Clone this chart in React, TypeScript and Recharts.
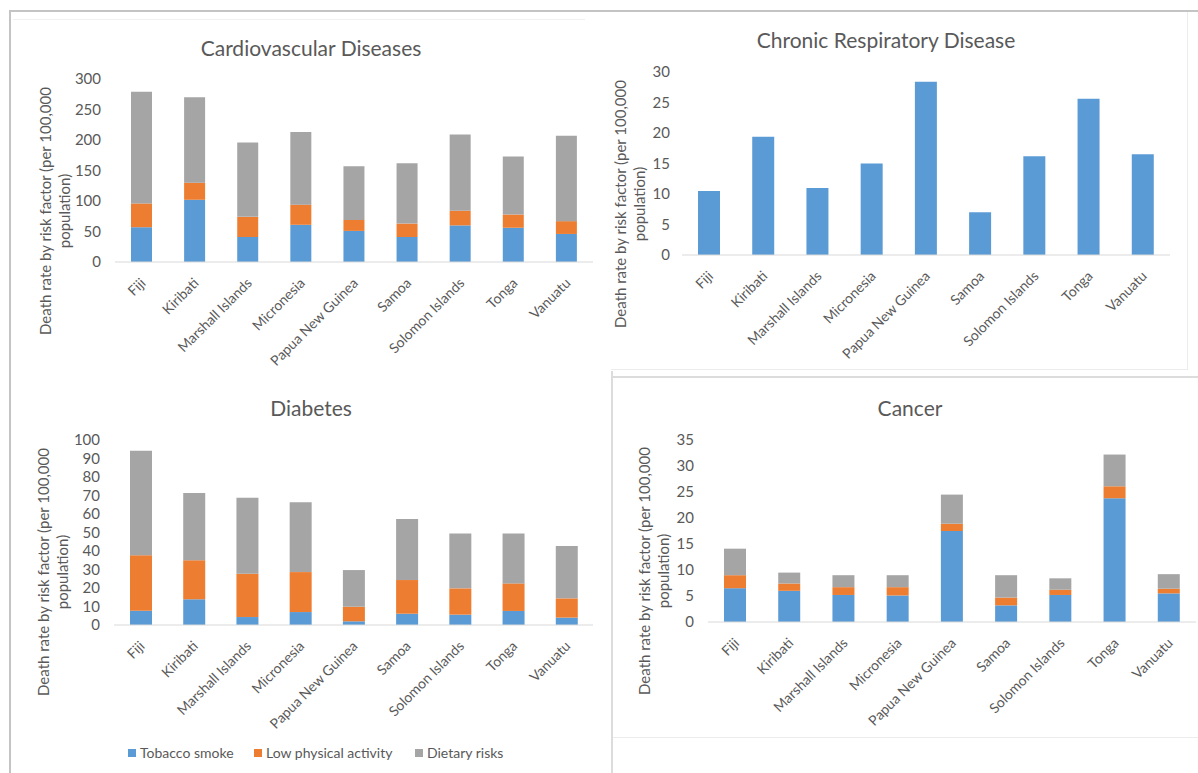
import { Bar, BarChart, XAxis, YAxis } from 'recharts'

const FONT = 'Lato, "Liberation Sans", sans-serif'
const TEXT = '#595959'
const AXIS = '#d9d9d9'
const BLUE = '#5B9BD5'
const ORANGE = '#ED7D31'
const GREY = '#A5A5A5'

const countries = ['Fiji', 'Kiribati', 'Marshall Islands', 'Micronesia', 'Papua New Guinea', 'Samoa', 'Solomon Islands', 'Tonga', 'Vanuatu']

// Cardiovascular diseases
const cvdTobacco = [57, 102, 41, 61, 51, 41, 60, 56, 46]
const cvdActivity = [39, 28, 33, 33, 18, 22, 24, 22, 21]
const cvdDiet = [183, 140, 122, 119, 88, 99, 125, 95, 140]
const cvdTicks = [0, 50, 100, 150, 200, 250, 300]

// Chronic respiratory disease
const crdTobacco = [10.5, 19.4, 11.0, 15.0, 28.4, 7.0, 16.2, 25.6, 16.5]
const crdTicks = [0, 5, 10, 15, 20, 25, 30]

// Diabetes
const diaTobacco = [7.7, 13.9, 4.3, 7.0, 2.0, 6.1, 5.6, 7.6, 4.0]
const diaActivity = [30.0, 21.1, 23.4, 21.6, 7.9, 18.2, 14.2, 14.9, 10.4]
const diaDiet = [56.5, 36.4, 41.1, 37.7, 19.8, 33.0, 29.7, 27.0, 28.3]
const diaTicks = [0, 10, 20, 30, 40, 50, 60, 70, 80, 90, 100]

// Cancer
const canTobacco = [6.5, 6.0, 5.2, 5.1, 17.5, 3.2, 5.2, 23.8, 5.5]
const canActivity = [2.5, 1.4, 1.5, 1.6, 1.4, 1.5, 1.0, 2.3, 0.9]
const canDiet = [5.1, 2.1, 2.3, 2.3, 5.6, 4.3, 2.2, 6.1, 2.8]
const canTicks = [0, 5, 10, 15, 20, 25, 30, 35]

const seriesNames = ['Tobacco smoke', 'Low physical activity', 'Dietary risks']

const rows = (a: number[], b?: number[], c?: number[]) =>
  countries.map((country, i) => ({ country, tobacco: a[i], activity: b ? b[i] : 0, diet: c ? c[i] : 0 }))

const AngledTick = (props: any) => {
  const { x, y, payload } = props
  return (
    <g transform={`translate(${x + 5},${y + 22})`}>
      <text x={0} y={0} textAnchor="end" transform="rotate(-45)" fill={TEXT} fontSize={14} fontFamily={FONT}>
        {payload.value}
      </text>
    </g>
  )
}

type PanelProps = {
  left: number
  top: number
  width: number
  height: number
  margin: { top: number; right: number; bottom: number; left: number }
  yWidth: number
  tickGap: number
  ticks: number[]
  barSize: number
  data: any[]
  stacked: boolean
}

function Panel({ left, top, width, height, margin, yWidth, tickGap, ticks, barSize, data, stacked }: PanelProps) {
  return (
    <div style={{ position: 'absolute', left, top }}>
      <BarChart width={width} height={height} data={data} margin={margin}>
        <XAxis
          dataKey="country"
          interval={0}
          height={110}
          tickLine={false}
          tickSize={0}
          tickMargin={0}
          axisLine={{ stroke: AXIS }}
          tick={(p: any) => <AngledTick {...p} />}
        />
        <YAxis
          type="number"
          domain={[ticks[0], ticks[ticks.length - 1]]}
          ticks={ticks}
          interval={0}
          width={yWidth}
          axisLine={false}
          tickLine={false}
          tickSize={0}
          tickMargin={tickGap}
          tick={{ fill: TEXT, fontSize: 15, fontFamily: FONT }}
        />
        <Bar dataKey="tobacco" stackId="a" fill={BLUE} barSize={barSize} isAnimationActive={false} />
        {stacked && <Bar dataKey="activity" stackId="a" fill={ORANGE} barSize={barSize} isAnimationActive={false} />}
        {stacked && <Bar dataKey="diet" stackId="a" fill={GREY} barSize={barSize} isAnimationActive={false} />}
      </BarChart>
    </div>
  )
}

const Title = ({ x, y, text }: { x: number; y: number; text: string }) => (
  <div style={{ position: 'absolute', left: x, top: y, transform: 'translate(-50%,-50%)', whiteSpace: 'nowrap', fontSize: 21, color: TEXT, fontFamily: FONT }}>
    {text}
  </div>
)

const YLabel = ({ x, y }: { x: number; y: number }) => (
  <div
    style={{
      position: 'absolute',
      left: x,
      top: y,
      transform: 'translate(-50%,-50%) rotate(-90deg)',
      whiteSpace: 'nowrap',
      textAlign: 'center',
      fontSize: 15,
      lineHeight: '19px',
      color: TEXT,
      fontFamily: FONT,
    }}
  >
    Death rate by risk factor (per 100,000
    <br />
    population)
  </div>
)

const Line = ({ l, t, w, h, c }: { l: number; t: number; w: number; h: number; c: string }) => (
  <div style={{ position: 'absolute', left: l, top: t, width: w, height: h, background: c }} />
)

export default function App() {
  const legendColors = [BLUE, ORANGE, GREY]
  const legendX = [128, 254, 415]
  return (
    <div style={{ position: 'fixed', left: 0, top: 0, width: 1198, height: 773, background: '#fff', overflow: 'hidden' }}>
      {/* panel frames */}
      <Line l={9} t={10} w={1189} h={2} c="#c4c4c4" />
      <Line l={9} t={10} w={2} h={763} c="#c4c4c4" />
      <Line l={13} t={19} w={572} h={1} c="#f0f0f0" />
      <Line l={1187} t={12} w={1} h={358} c="#ececec" />
      <Line l={611} t={369} w={577} h={1} c="#ececec" />
      <Line l={611} t={371} w={2} h={402} c="#dcdcdc" />
      <Line l={611} t={376} w={587} h={2} c="#dcdcdc" />
      <Line l={613} t={737} w={585} h={1} c="#ececec" />

      <Panel
        left={0}
        top={0}
        width={600}
        height={380}
        margin={{ top: 79, right: 7, bottom: 8, left: 0 }}
        yWidth={115}
        tickGap={14}
        ticks={cvdTicks}
        barSize={21}
        data={rows(cvdTobacco, cvdActivity, cvdDiet)}
        stacked
      />
      <Panel
        left={600}
        top={0}
        width={598}
        height={380}
        margin={{ top: 72, right: 28, bottom: 15, left: 0 }}
        yWidth={82}
        tickGap={12}
        ticks={crdTicks}
        barSize={22}
        data={rows(crdTobacco)}
        stacked={false}
      />
      <Panel
        left={0}
        top={380}
        width={600}
        height={393}
        margin={{ top: 60, right: 7, bottom: 38, left: 0 }}
        yWidth={114}
        tickGap={14}
        ticks={diaTicks}
        barSize={22}
        data={rows(diaTobacco, diaActivity, diaDiet)}
        stacked
      />
      <Panel
        left={600}
        top={370}
        width={598}
        height={403}
        margin={{ top: 70, right: 2, bottom: 41, left: 0 }}
        yWidth={108}
        tickGap={14}
        ticks={canTicks}
        barSize={22}
        data={rows(canTobacco, canActivity, canDiet)}
        stacked
      />

      <Title x={311} y={47} text="Cardiovascular Diseases" />
      <Title x={886} y={39} text="Chronic Respiratory Disease" />
      <Title x={311} y={407} text="Diabetes" />
      <Title x={910} y={407} text="Cancer" />

      <YLabel x={55} y={211} />
      <YLabel x={630} y={204} />
      <YLabel x={53} y={572} />
      <YLabel x={654} y={571} />

      {seriesNames.map((name, i) => (
        <div
          key={name}
          style={{ position: 'absolute', left: legendX[i], top: 744, display: 'flex', alignItems: 'center', fontSize: 14, color: TEXT, fontFamily: FONT, whiteSpace: 'nowrap' }}
        >
          <span style={{ display: 'inline-block', width: 8, height: 8, background: legendColors[i], marginRight: 4 }} />
          {name}
        </div>
      ))}
    </div>
  )
}
